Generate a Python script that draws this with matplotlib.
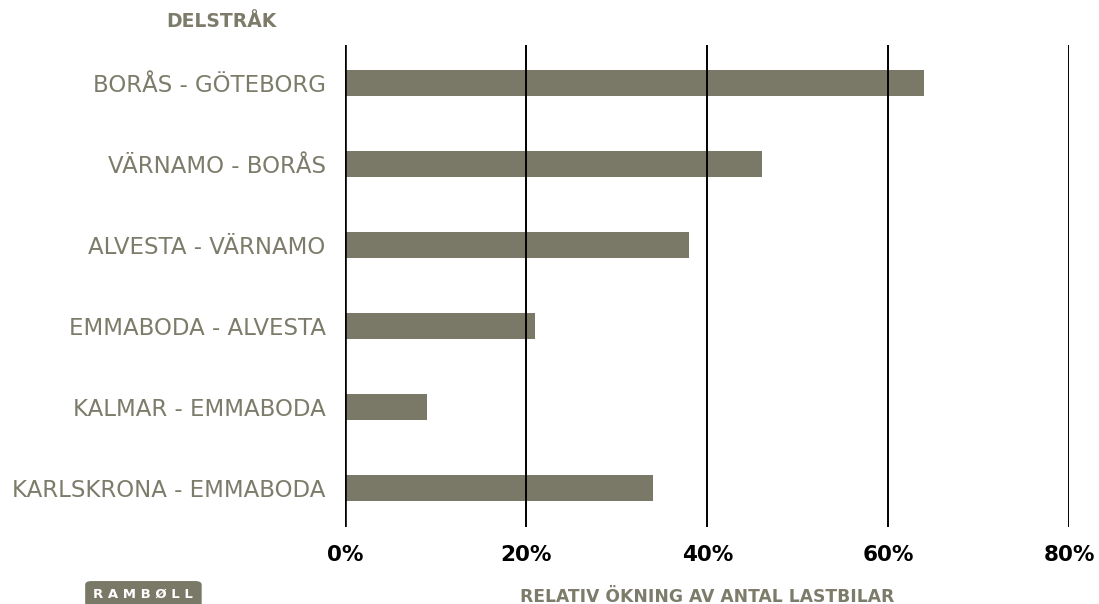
import matplotlib.pyplot as plt
from matplotlib.patches import FancyBboxPatch

routes = ["BORÅS - GÖTEBORG", "VÄRNAMO - BORÅS", "ALVESTA - VÄRNAMO",
          "EMMABODA - ALVESTA", "KALMAR - EMMABODA", "KARLSKRONA - EMMABODA"]
increase = [64, 46, 38, 21, 9, 34]
ticks = [0, 20, 40, 60, 80]
tick_labels = ["0%", "20%", "40%", "60%", "80%"]

grey = "#7a7866"
text_grey = "#7d7c6b"

fig = plt.figure(figsize=(10.99, 6.04), dpi=100)
ax = fig.add_axes([0.314, 0.1275, 0.659, 0.7975])

ypos = list(range(len(routes)))
ax.barh(ypos, increase, height=0.32, color=grey, zorder=1)
ax.set_xlim(0, 80)
ax.set_ylim(5.48, -0.47)

for t in ticks[1:]:
    ax.axvline(t, color="black", lw=1.4, zorder=2)
ax.axvline(0, color="black", lw=2.6, zorder=3)

for s in ax.spines.values():
    s.set_visible(False)

ax.set_yticks(ypos)
ax.set_yticklabels(routes, fontsize=16.5, color=text_grey)
ax.tick_params(axis="y", length=0, pad=14)
ax.set_xticks(ticks)
ax.set_xticklabels(tick_labels, fontsize=15.5, fontweight="bold")
ax.tick_params(axis="x", length=0, pad=13)

fig.text(0.151, 0.965, "DELSTRÅK", fontsize=13.5, fontweight="bold",
         color=text_grey, va="center")
fig.text(0.643, 0.0116, "RELATIV ÖKNING AV ANTAL LASTBILAR", fontsize=12.3,
         fontweight="bold", color=text_grey, ha="center", va="center")

# logo
logo = FancyBboxPatch((0.0775, -0.03), 0.106, 0.068,
                      boxstyle="round,pad=0,rounding_size=0.006",
                      transform=fig.transFigure, facecolor=grey, edgecolor="none")
fig.patches.append(logo)
fig.text(0.1305, 0.0165, "R A M B Ø L L", fontsize=9.5, fontweight="bold",
         color="white", ha="center", va="center")

fig.savefig("out.png", dpi=100)
